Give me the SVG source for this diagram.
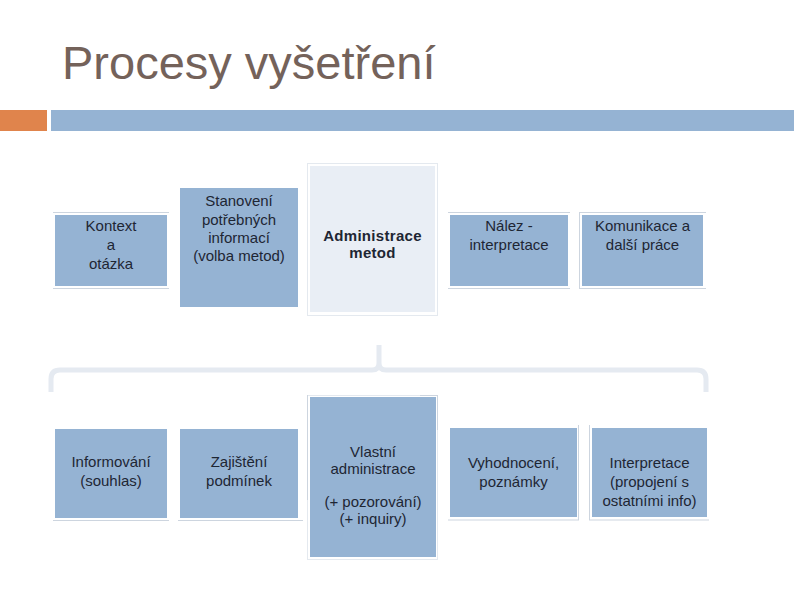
<svg xmlns="http://www.w3.org/2000/svg" width="794" height="595" viewBox="0 0 794 595">
<style>
.box{fill:#95b3d3}
.lite{fill:#e9eef5}
.frame{stroke:#cdd5df;stroke-width:1;fill:none}
.faint{stroke:#e4e9ef;stroke-width:1;fill:none}
.t{font-family:"Liberation Sans",Arial,sans-serif;font-size:15px;fill:#1e2633;text-anchor:middle}
.b{font-weight:bold;letter-spacing:0.3px}
.brace{fill:none;stroke:#e5eaf1;stroke-width:5;stroke-linecap:butt;stroke-linejoin:round}
</style>
<rect width="794" height="595" fill="#ffffff"/>
<text x="62" y="79" font-family="'Liberation Sans',Arial,sans-serif" font-size="47" fill="#74625a">Procesy vyšetření</text>
<rect x="0" y="110" width="47" height="21" fill="#e0844c"/>
<rect x="51" y="110" width="743" height="21" fill="#95b3d3"/>

<g id="connectors">
<path class="brace" d="M51 392 L51 379 Q51 370 60 370 L372 370 Q379 370 379 363 L379 345 M379 363 Q379 370 386 370 L697 370 Q706 370 706 379 L706 392"/>
</g>

<g id="kontext">
<line class="frame" x1="53" y1="212.5" x2="169" y2="212.5"/>
<line class="frame" x1="53" y1="288.5" x2="169" y2="288.5"/>
<rect class="box" x="55" y="215" width="112" height="71"/>
<text class="t" x="111" y="231">Kontext</text>
<text class="t" x="111" y="250">a</text>
<text class="t" x="111" y="268.5">otázka</text>
</g>

<g id="stanoveni">
<rect class="box" x="180" y="188" width="118" height="119"/>
<text class="t" x="239" y="206">Stanovení</text>
<text class="t" x="239" y="224.5">potřebných</text>
<text class="t" x="239" y="243">informací</text>
<text class="t" x="239" y="261">(volba metod)</text>
</g>

<g id="administrace">
<rect class="faint" x="307.5" y="163.5" width="130" height="152"/>
<rect class="lite" x="310" y="166" width="125" height="146"/>
<text class="t b" x="372.5" y="241">Administrace</text>
<text class="t b" x="372.5" y="258">metod</text>
</g>

<g id="nalez">
<line class="frame" x1="448" y1="212.5" x2="570" y2="212.5"/>
<line class="frame" x1="448" y1="288.5" x2="570" y2="288.5"/>
<rect class="box" x="450" y="215" width="118" height="71"/>
<text class="t" x="509" y="231">Nález -</text>
<text class="t" x="509" y="249.5">interpretace</text>
</g>

<g id="komunikace">
<line class="frame" x1="579" y1="212.5" x2="706" y2="212.5"/>
<line class="frame" x1="579" y1="288.5" x2="706" y2="288.5"/>
<line class="frame" x1="579.5" y1="212.5" x2="579.5" y2="288.5"/>
<rect class="box" x="582" y="215" width="121" height="71"/>
<text class="t" x="642.5" y="231">Komunikace a</text>
<text class="t" x="642.5" y="249.5">další práce</text>
</g>

<g id="informovani">
<line class="frame" x1="53" y1="520.5" x2="169" y2="520.5"/>
<rect class="box" x="55" y="429" width="112" height="89"/>
<text class="t" x="111" y="467">Informování</text>
<text class="t" x="111" y="485.5">(souhlas)</text>
</g>

<g id="zajisteni">
<line class="frame" x1="178" y1="520.5" x2="303" y2="520.5"/>
<rect class="box" x="180" y="429" width="118" height="89"/>
<text class="t" x="239" y="467">Zajištění</text>
<text class="t" x="239" y="485.5">podmínek</text>
</g>

<g id="vlastni">
<rect class="faint" x="307.5" y="395.5" width="130" height="164"/>
<line class="frame" x1="307.5" y1="395" x2="307.5" y2="500"/>
<line class="frame" x1="420" y1="395.5" x2="438" y2="395.5"/>
<line class="frame" x1="437.5" y1="395.5" x2="437.5" y2="430"/>
<rect class="box" x="310" y="397" width="126" height="160"/>
<text class="t" x="373" y="456.5">Vlastní</text>
<text class="t" x="373" y="474">administrace</text>
<text class="t" x="373" y="507">(+ pozorování)</text>
<text class="t" x="373" y="524">(+ inquiry)</text>
</g>

<g id="vyhodnoceni">
<line class="frame" x1="448" y1="520" x2="579" y2="520"/>
<line class="frame" x1="578.5" y1="425" x2="578.5" y2="520"/>
<rect class="box" x="450" y="428" width="127" height="89"/>
<text class="t" x="513.5" y="468">Vyhodnocení,</text>
<text class="t" x="513.5" y="487">poznámky</text>
</g>

<g id="interpretace">
<line class="frame" x1="589" y1="520" x2="709" y2="520"/>
<line class="frame" x1="589.5" y1="425" x2="589.5" y2="520"/>
<rect class="box" x="592" y="428" width="115" height="89"/>
<text class="t" x="649.5" y="468">Interpretace</text>
<text class="t" x="649.5" y="487">(propojení s</text>
<text class="t" x="649.5" y="506">ostatními info)</text>
</g>
</svg>
